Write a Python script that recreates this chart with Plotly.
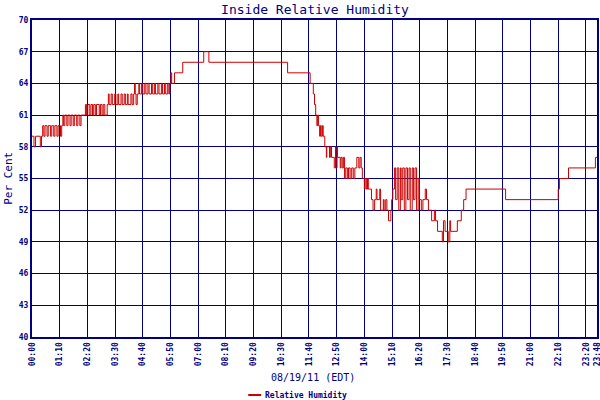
import plotly.graph_objects as go

navy = '#000080'
mono = 'DejaVu Sans Mono'

# minutes after midnight where the reading changes, and the reading (%)
minutes = [0, 5, 9, 21, 24, 27, 30, 33, 38, 41, 47, 50, 55, 58, 63, 66, 72, 75,
           78, 80, 83, 88, 91, 96, 99, 104, 107, 113, 116, 121, 124,
           135, 138, 141, 146, 149, 153, 156, 160, 163, 170, 173, 177, 180, 184, 187,
           190, 193, 195, 200, 203, 209, 212, 217, 219, 225, 228, 233, 236, 241, 243,
           250, 253, 257, 259, 261, 263,
           266, 270, 272, 277, 280, 285, 288, 293, 296, 302, 305, 310, 312, 318, 321,
           327, 330, 335, 338, 343, 346, 348, 351, 353, 360, 381, 434, 447, 646,
           703, 711, 714, 717, 720, 722, 724, 727, 729, 731, 734, 736, 740, 744, 745,
           752, 754, 757, 764, 767, 768, 771, 772, 779, 781, 784, 787,
           790, 793, 797, 800, 804, 808, 812, 816, 821, 826, 829, 832, 835, 840, 842,
           845, 848, 850, 858, 862, 866, 870, 872, 879, 881, 888, 890, 894, 897, 901,
           907, 909, 912, 916, 919, 923, 927, 931, 933, 937, 941, 945, 949, 953, 956,
           961, 964, 968, 972, 976, 979, 984, 988, 994, 997, 1002, 1010, 1017, 1020,
           1025, 1037, 1040, 1044, 1052, 1056, 1058, 1075, 1085, 1091, 1097, 1197,
           1330, 1333, 1356, 1424, 1428]
humidity = [59, 58, 59, 58, 59, 60, 59, 60, 59, 60, 59, 60, 59, 60, 59, 60, 59, 60,
            61, 60, 61, 60, 61, 60, 61, 60, 61, 60, 61, 60, 61,
            62, 61, 62, 61, 62, 61, 62, 61, 62, 61, 62, 61, 62, 61, 61,
            62, 63, 62, 63, 62, 63, 62, 63, 62, 63, 62, 63, 62, 63, 62,
            63, 62, 63, 64, 63, 62,
            63, 64, 63, 64, 63, 64, 63, 64, 63, 64, 63, 64, 63, 64, 63,
            64, 63, 64, 63, 64, 63, 64, 65, 64, 65, 66, 67, 66, 65,
            64, 63, 62, 61, 60, 61, 60, 59, 60, 59, 60, 59, 58, 57, 58,
            57, 58, 57, 56, 58, 56, 58, 57, 56, 57, 56, 57,
            55, 56, 55, 56, 55, 56, 55, 56, 57, 56, 57, 56, 55, 54, 55,
            54, 55, 54, 53, 52, 53, 54, 53, 54, 52, 53, 52, 53, 52, 51,
            52, 53, 54, 56, 53, 56, 52, 56, 53, 56, 52, 56, 53, 56, 52,
            56, 53, 56, 52, 55, 53, 52, 53, 54, 53, 52, 51, 52, 51,
            50, 49, 51, 50, 49, 51, 50, 51, 52, 53, 54, 53,
            54, 55, 56, 57, 57]

tick_minutes = [0, 70, 140, 210, 280, 350, 420, 490, 560, 630, 700, 770, 840, 910,
                980, 1050, 1120, 1190, 1260, 1330, 1400, 1428]
tick_labels = ['00:00', '01:10', '02:20', '03:30', '04:40', '05:50', '07:00', '08:10',
               '09:20', '10:30', '11:40', '12:50', '14:00', '15:10', '16:20', '17:30',
               '18:40', '19:50', '21:00', '22:10', '23:20', '23:48']
y_ticks = [40, 43, 46, 49, 52, 55, 58, 61, 64, 67, 70]

bold = lambda s: '<b>' + s + '</b>'

fig = go.Figure()
fig.add_trace(go.Scatter(
    x=minutes, y=humidity,
    mode='lines',
    line=dict(color='#cc0000', width=1, shape='hv'),
    name='Relative Humidity',
    showlegend=False
))

fig.update_xaxes(range=[0, 1428], tickvals=tick_minutes,
                 ticktext=[bold(s) for s in tick_labels],
                 tickangle=-90, tickfont=dict(family=mono, size=8, color=navy),
                 ticklabeloverflow='allow',
                 showgrid=True, gridcolor=navy, gridwidth=1,
                 showline=True, linecolor=navy, linewidth=2, mirror=True,
                 zeroline=False, ticks='', automargin=False)
fig.update_yaxes(range=[40, 70], tickvals=y_ticks,
                 ticktext=[bold(str(v)) for v in y_ticks],
                 tickfont=dict(family=mono, size=8, color=navy),
                 showgrid=True, gridcolor=navy, gridwidth=1,
                 showline=True, linecolor=navy, linewidth=2, mirror=True,
                 zeroline=False, ticks='', automargin=False)

fig.update_layout(
    width=600, height=400,
    margin=dict(l=32, r=3, t=20, b=63),
    plot_bgcolor='white', paper_bgcolor='white',
    title=dict(text='Inside Relative Humidity', x=0.525, xanchor='center',
               y=0.977, yanchor='middle',
               font=dict(family=mono, size=13, color=navy)),
    annotations=[
        dict(text='Per Cent', textangle=-90, xref='paper', yref='paper',
             x=-0.042, y=0.50, xanchor='center', yanchor='middle', showarrow=False,
             font=dict(family=mono, size=11, color=navy)),
        dict(text='08/19/11 (EDT)', xref='paper', yref='paper',
             x=0.497, y=-0.129, xanchor='center', yanchor='middle', showarrow=False,
             font=dict(family=mono, size=10, color=navy)),
        dict(text=bold('Relative Humidity'), xref='paper', yref='paper',
             x=0.409, y=-0.183, xanchor='left', yanchor='middle', showarrow=False,
             font=dict(family=mono, size=8, color=navy)),
    ],
    shapes=[dict(type='line', xref='paper', yref='paper',
                 x0=0.3827, x1=0.4056, y0=-0.183, y1=-0.183,
                 line=dict(color='#cc0000', width=2))],
)

fig.write_html('out.html', config={'displayModeBar': False},
               post_script="document.body.style.margin='0';")
